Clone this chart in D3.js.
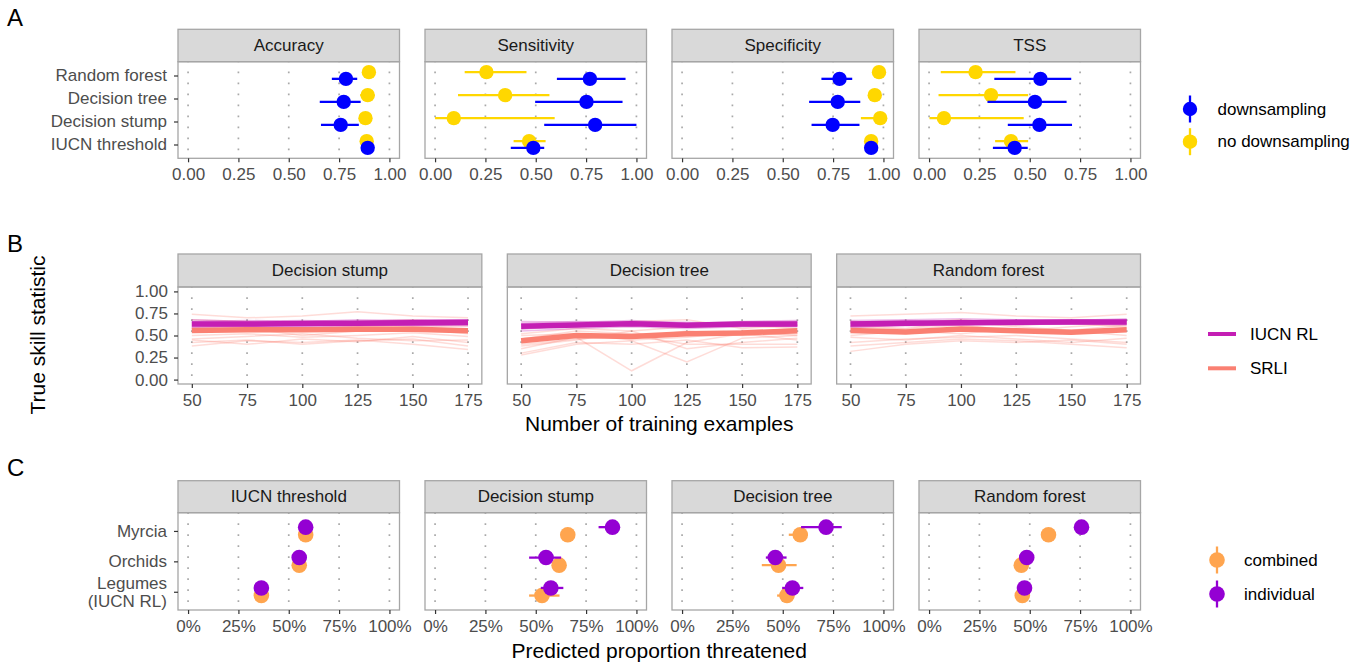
<!DOCTYPE html>
<html>
<head>
<meta charset="utf-8">
<script src="https://cdn.jsdelivr.net/npm/d3@7"></script>
<style>
body{margin:0;background:#fff;}
svg text{font-family:"Liberation Sans",Arial,sans-serif;}
</style>
</head>
<body>
<svg id="chart" width="1364" height="663"></svg>
<script>
// ---------- panel A data : [estimate, low, high] per method ----------
var methodsA = ["IUCN threshold","Decision stump","Decision tree","Random forest"];
var metricsA = ["Accuracy","Sensitivity","Specificity","TSS"];
var accNoDown  = [[0.887,0.88,0.895],[0.881,0.87,0.89],[0.892,0.855,0.926],[0.898,0.89,0.905]];
var accDown    = [[0.892,0.885,0.9],[0.758,0.66,0.848],[0.773,0.654,0.857],[0.784,0.714,0.84]];
var sensNoDown = [[0.467,0.39,0.549],[0.093,0.0,0.594],[0.348,0.114,0.568],[0.255,0.147,0.454]];
var sensDown   = [[0.488,0.376,0.542],[0.795,0.542,1.0],[0.752,0.497,0.931],[0.769,0.605,0.946]];
var specNoDown = [[0.939,0.93,0.95],[0.984,0.888,1.0],[0.957,0.95,0.965],[0.978,0.97,0.985]];
var specDown   = [[0.939,0.93,0.948],[0.748,0.643,0.881],[0.773,0.631,0.885],[0.782,0.692,0.845]];
var tssNoDown  = [[0.407,0.328,0.492],[0.074,0.002,0.47],[0.308,0.047,0.492],[0.231,0.058,0.429]];
var tssDown    = [[0.425,0.317,0.49],[0.548,0.391,0.71],[0.526,0.29,0.683],[0.553,0.324,0.706]];
var ticksA = [0, 0.25, 0.5, 0.75, 1];

// ---------- panel B data : true skill statistic by training size ----------
var modelsB = ["Decision stump","Decision tree","Random forest"];
var trainSizes = [50, 75, 100, 125, 150, 175];
var stumpIucnMean = [0.63,0.63,0.635,0.64,0.645,0.649];
var stumpSrliMean = [0.558,0.565,0.565,0.57,0.57,0.555];
var treeIucnMean  = [0.604,0.62,0.634,0.615,0.63,0.63];
var treeSrliMean  = [0.44,0.50,0.49,0.52,0.528,0.555];
var forestIucnMean = [0.63,0.638,0.645,0.65,0.653,0.653];
var forestSrliMean = [0.558,0.54,0.574,0.555,0.536,0.566];
var stumpIucnRuns = [
  [0.66,0.67,0.66,0.68,0.67,0.68],[0.60,0.61,0.62,0.61,0.62,0.63],[0.64,0.63,0.65,0.66,0.65,0.66],
  [0.58,0.60,0.60,0.61,0.62,0.61],[0.62,0.64,0.63,0.63,0.64,0.65],[0.68,0.66,0.67,0.66,0.68,0.67],
  [0.59,0.62,0.61,0.63,0.61,0.62],[0.65,0.65,0.64,0.65,0.66,0.66]];
var stumpSrliRuns = [
  [0.74,0.70,0.72,0.77,0.72,0.70],[0.42,0.45,0.40,0.44,0.46,0.38],[0.50,0.52,0.48,0.50,0.53,0.49],
  [0.62,0.60,0.64,0.62,0.60,0.61],[0.46,0.49,0.52,0.47,0.44,0.45],[0.58,0.55,0.57,0.60,0.58,0.52],
  [0.38,0.44,0.42,0.45,0.40,0.34],[0.68,0.66,0.62,0.66,0.68,0.64],[0.54,0.58,0.50,0.55,0.56,0.57],
  [0.45,0.40,0.46,0.43,0.49,0.42]];
var treeIucnRuns = [
  [0.66,0.65,0.67,0.64,0.66,0.67],[0.55,0.58,0.60,0.58,0.60,0.61],[0.62,0.63,0.62,0.62,0.64,0.64],
  [0.58,0.60,0.63,0.60,0.61,0.60],[0.64,0.66,0.65,0.63,0.65,0.66],[0.60,0.62,0.64,0.61,0.62,0.62],
  [0.63,0.61,0.66,0.65,0.63,0.65],[0.57,0.62,0.61,0.62,0.64,0.62]];
var treeSrliRuns = [
  [0.35,0.48,0.10,0.42,0.52,0.45],[0.28,0.40,0.44,0.20,0.47,0.50],[0.52,0.58,0.55,0.60,0.62,0.58],
  [0.40,0.46,0.50,0.40,0.40,0.40],[0.46,0.55,0.52,0.50,0.56,0.55],[0.30,0.42,0.40,0.45,0.36,0.37],
  [0.62,0.60,0.66,0.68,0.58,0.62],[0.42,0.50,0.47,0.55,0.50,0.52],[0.38,0.45,0.55,0.35,0.42,0.47],
  [0.50,0.52,0.45,0.48,0.54,0.50]];
var forestIucnRuns = [
  [0.67,0.68,0.69,0.68,0.67,0.69],[0.60,0.61,0.62,0.63,0.63,0.62],[0.64,0.66,0.65,0.66,0.66,0.67],
  [0.61,0.63,0.64,0.64,0.65,0.64],[0.66,0.64,0.67,0.66,0.68,0.66],[0.59,0.62,0.63,0.62,0.64,0.63],
  [0.63,0.65,0.64,0.65,0.64,0.66],[0.65,0.67,0.66,0.67,0.66,0.68]];
var forestSrliRuns = [
  [0.72,0.74,0.76,0.72,0.70,0.74],[0.32,0.40,0.44,0.42,0.45,0.40],[0.48,0.45,0.50,0.46,0.42,0.47],
  [0.62,0.58,0.66,0.60,0.56,0.62],[0.42,0.46,0.48,0.50,0.46,0.42],[0.56,0.52,0.57,0.54,0.52,0.58],
  [0.66,0.64,0.68,0.62,0.64,0.60],[0.50,0.55,0.52,0.58,0.55,0.50],[0.38,0.42,0.46,0.44,0.40,0.36],
  [0.60,0.57,0.62,0.55,0.60,0.64]];
var ticksBx = [50, 75, 100, 125, 150, 175];
var ticksBy = [0, 0.25, 0.5, 0.75, 1];

// ---------- panel C data : predicted proportion threatened [est, low, high] ----------
var groupsC = ["Legumes\n(IUCN RL)","Orchids","Myrcia"];
var methodsC = ["IUCN threshold","Decision stump","Decision tree","Random forest"];
var iucnCombined    = [[0.364,0.36,0.368],[0.552,0.548,0.556],[0.584,0.58,0.588]];
var iucnIndividual  = [[0.364,0.36,0.368],[0.552,0.548,0.556],[0.584,0.58,0.588]];
var stumpCombined   = [[0.531,0.467,0.618],[0.616,0.61,0.622],[0.659,0.655,0.663]];
var stumpIndividual = [[0.575,0.525,0.637],[0.551,0.467,0.626],[0.881,0.812,0.903]];
var treeCombined    = [[0.521,0.472,0.557],[0.479,0.396,0.569],[0.587,0.53,0.625]];
var treeIndividual  = [[0.548,0.497,0.602],[0.463,0.416,0.519],[0.715,0.591,0.793]];
var forestCombined  = [[0.463,0.458,0.468],[0.458,0.453,0.463],[0.593,0.588,0.598]];
var forestIndividual= [[0.474,0.469,0.479],[0.485,0.48,0.49],[0.757,0.728,0.789]];
var ticksC = [0, 0.25, 0.5, 0.75, 1];

// ---------- colours ----------
var colDown = "#0000ff", colNoDown = "#ffd700";
var colIucn = "#c41eb4", colSrli = "#fa8072";
var colCombined = "#ffa54f", colIndividual = "#9400d3";

var svg = d3.select("#chart");
var plotLeft = 178, plotRight = 1140.5, gap = 25.5;
var axisCol = "#4d4d4d", tickCol = "#333333", borderCol = "#a6a6a6";

function panels(n){
  var w = (plotRight - plotLeft - gap*(n-1))/n;
  return d3.range(n).map(function(i){ return {x0: plotLeft + i*(w+gap), w: w}; });
}

function strip(p, top, bottom, label){
  svg.append("rect").attr("x", p.x0).attr("y", top).attr("width", p.w).attr("height", bottom-top)
    .attr("fill", "#d9d9d9").attr("stroke", borderCol).attr("stroke-width", 1.3);
  svg.append("text").attr("x", p.x0 + p.w/2).attr("y", (top+bottom)/2)
    .attr("text-anchor", "middle").attr("dominant-baseline", "central")
    .attr("font-size", 17).attr("fill", "#1a1a1a").text(label);
}

function grid(x, ticks, top, bottom){
  svg.append("g").selectAll("line").data(ticks).enter().append("line")
    .attr("x1", function(d){return x(d);}).attr("x2", function(d){return x(d);})
    .attr("y1", bottom).attr("y2", top)
    .attr("stroke", "#a9a9a9").attr("stroke-width", 1.7)
    .attr("stroke-dasharray", "1.7,9.3").attr("stroke-dashoffset", -8);
}

function border(p, top, bottom){
  svg.append("rect").attr("x", p.x0).attr("y", top).attr("width", p.w).attr("height", bottom-top)
    .attr("fill", "none").attr("stroke", borderCol).attr("stroke-width", 1.3);
}

function styleAxis(g){
  g.select(".domain").remove();
  g.attr("font-size", 17).attr("font-family", null);
  g.selectAll(".tick line").attr("stroke", tickCol).attr("stroke-width", 1.2);
  g.selectAll(".tick text").attr("fill", axisCol);
}

function xAxis(x, ticks, fmt, bottom){
  var g = svg.append("g").attr("transform", "translate(0," + bottom + ")")
    .call(d3.axisBottom(x).tickValues(ticks).tickFormat(fmt).tickSize(4).tickPadding(6));
  styleAxis(g);
}

function pointRanges(rows, x, y, cats, dy, color, lw, r){
  var g = svg.append("g").selectAll("g").data(rows).enter().append("g");
  g.append("line")
    .attr("x1", function(d){return x(d[1]);}).attr("x2", function(d){return x(d[2]);})
    .attr("y1", function(d,i){return y(cats[i]) + dy;}).attr("y2", function(d,i){return y(cats[i]) + dy;})
    .attr("stroke", color).attr("stroke-width", lw);
  g.append("circle")
    .attr("cx", function(d){return x(d[0]);}).attr("cy", function(d,i){return y(cats[i]) + dy;})
    .attr("r", r).attr("fill", color);
}

function letter(t, y){
  svg.append("text").attr("x", 7).attr("y", y).attr("dominant-baseline", "central")
    .attr("font-size", 24).attr("fill", "#000").text(t);
}

// ================= Panel A =================
var aStripTop = 29.3, aTop = 61.7, aBottom = 158.3;
var seriesA = [[accNoDown, accDown],[sensNoDown, sensDown],[specNoDown, specDown],[tssNoDown, tssDown]];
var yA = d3.scalePoint().domain(methodsA).range([aBottom, aTop]).padding(0.6);
var offA = 0.145 * yA.step();
panels(4).forEach(function(p, i){
  var x = d3.scaleLinear().domain([-0.05, 1.05]).range([p.x0, p.x0 + p.w]);
  strip(p, aStripTop, aTop, metricsA[i]);
  grid(x, ticksA, aTop, aBottom);
  pointRanges(seriesA[i][0], x, yA, methodsA, -offA, colNoDown, 2.3, 7.2);
  pointRanges(seriesA[i][1], x, yA, methodsA, offA, colDown, 2.3, 7.2);
  border(p, aTop, aBottom);
  xAxis(x, ticksA, d3.format(".2f"), aBottom);
  if(i === 0){
    var g = svg.append("g").attr("transform", "translate(" + p.x0 + ",0)")
      .call(d3.axisLeft(yA).tickSize(4).tickPadding(7));
    styleAxis(g);
  }
});
letter("A", 17);

// legend A
[["downsampling", colDown, 109], ["no downsampling", colNoDown, 141.7]].forEach(function(d){
  svg.append("line").attr("x1", 1190).attr("x2", 1190).attr("y1", d[2]-13.5).attr("y2", d[2]+13.5)
    .attr("stroke", d[1]).attr("stroke-width", 2.3);
  svg.append("circle").attr("cx", 1190).attr("cy", d[2]).attr("r", 7.2).attr("fill", d[1]);
  svg.append("text").attr("x", 1217.5).attr("y", d[2]).attr("dominant-baseline", "central")
    .attr("font-size", 17).attr("fill", "#000").text(d[0]);
});

// ================= Panel B =================
var bStripTop = 254, bTop = 287, bBottom = 384;
var seriesB = [
  {iucn: stumpIucnMean, srli: stumpSrliMean, iucnRuns: stumpIucnRuns, srliRuns: stumpSrliRuns},
  {iucn: treeIucnMean, srli: treeSrliMean, iucnRuns: treeIucnRuns, srliRuns: treeSrliRuns},
  {iucn: forestIucnMean, srli: forestSrliMean, iucnRuns: forestIucnRuns, srliRuns: forestSrliRuns}];
var yB = d3.scaleLinear().domain([-0.05, 1.05]).range([bBottom, bTop]);
panels(3).forEach(function(p, i){
  var x = d3.scaleLinear().domain([43.75, 181.25]).range([p.x0, p.x0 + p.w]);
  var line = d3.line().x(function(d, j){return x(trainSizes[j]);}).y(function(d){return yB(d);});
  var s = seriesB[i];
  strip(p, bStripTop, bTop, modelsB[i]);
  grid(x, ticksBx, bTop, bBottom);
  svg.append("g").selectAll("path").data(s.srliRuns).enter().append("path")
    .attr("d", line).attr("fill", "none").attr("stroke", colSrli).attr("stroke-width", 1.5).attr("stroke-opacity", 0.28);
  svg.append("g").selectAll("path").data(s.iucnRuns).enter().append("path")
    .attr("d", line).attr("fill", "none").attr("stroke", colIucn).attr("stroke-width", 1.5).attr("stroke-opacity", 0.3);
  svg.append("path").attr("d", line(s.srli)).attr("fill", "none").attr("stroke", colSrli).attr("stroke-width", 5.5);
  svg.append("path").attr("d", line(s.iucn)).attr("fill", "none").attr("stroke", colIucn).attr("stroke-width", 5.5);
  border(p, bTop, bBottom);
  xAxis(x, ticksBx, d3.format("d"), bBottom);
  if(i === 0){
    var g = svg.append("g").attr("transform", "translate(" + p.x0 + ",0)")
      .call(d3.axisLeft(yB).tickValues(ticksBy).tickFormat(d3.format(".2f")).tickSize(4).tickPadding(6));
    styleAxis(g);
  }
});
letter("B", 243);
svg.append("text").attr("transform", "translate(37,335) rotate(-90)").attr("text-anchor", "middle")
  .attr("dominant-baseline", "central").attr("font-size", 21).attr("fill", "#000").text("True skill statistic");
svg.append("text").attr("x", (plotLeft + plotRight)/2).attr("y", 423).attr("text-anchor", "middle")
  .attr("dominant-baseline", "central").attr("font-size", 21).attr("fill", "#000").text("Number of training examples");

// legend B
[["IUCN RL", colIucn, 334], ["SRLI", colSrli, 368.3]].forEach(function(d){
  svg.append("line").attr("x1", 1208).attr("x2", 1236).attr("y1", d[2]).attr("y2", d[2])
    .attr("stroke", d[1]).attr("stroke-width", 4);
  svg.append("text").attr("x", 1250).attr("y", d[2]).attr("dominant-baseline", "central")
    .attr("font-size", 17).attr("fill", "#000").text(d[0]);
});

// ================= Panel C =================
var cStripTop = 480.7, cTop = 512.7, cBottom = 610;
var seriesC = [[iucnCombined, iucnIndividual],[stumpCombined, stumpIndividual],
               [treeCombined, treeIndividual],[forestCombined, forestIndividual]];
var yC = d3.scalePoint().domain(groupsC).range([cBottom, cTop]).padding(0.6);
var offC = 0.125 * yC.step();
panels(4).forEach(function(p, i){
  var x = d3.scaleLinear().domain([-0.05, 1.05]).range([p.x0, p.x0 + p.w]);
  strip(p, cStripTop, cTop, methodsC[i]);
  grid(x, ticksC, cTop, cBottom);
  pointRanges(seriesC[i][0], x, yC, groupsC, offC, colCombined, 2.3, 7.8);
  pointRanges(seriesC[i][1], x, yC, groupsC, -offC, colIndividual, 2.3, 7.8);
  border(p, cTop, cBottom);
  xAxis(x, ticksC, d3.format(".0%"), cBottom);
  if(i === 0){
    var g = svg.append("g").attr("transform", "translate(" + p.x0 + ",0)")
      .call(d3.axisLeft(yC).tickSize(4).tickPadding(7));
    styleAxis(g);
    // two-line category label
    g.selectAll(".tick text").each(function(d){
      var parts = d.split("\n");
      if(parts.length > 1){
        var t = d3.select(this).text(null).attr("dy", null);
        parts.forEach(function(s, k){
          t.append("tspan").attr("x", -11).attr("dy", k === 0 ? "-0.22em" : "1.1em").text(s);
        });
      }
    });
  }
});
letter("C", 467);
svg.append("text").attr("x", (plotLeft + plotRight)/2).attr("y", 650).attr("text-anchor", "middle")
  .attr("dominant-baseline", "central").attr("font-size", 21).attr("fill", "#000").text("Predicted proportion threatened");

// legend C
[["combined", colCombined, 560], ["individual", colIndividual, 594]].forEach(function(d){
  svg.append("line").attr("x1", 1217).attr("x2", 1217).attr("y1", d[2]-13.5).attr("y2", d[2]+13.5)
    .attr("stroke", d[1]).attr("stroke-width", 2.3);
  svg.append("circle").attr("cx", 1217).attr("cy", d[2]).attr("r", 7.8).attr("fill", d[1]);
  svg.append("text").attr("x", 1244).attr("y", d[2]).attr("dominant-baseline", "central")
    .attr("font-size", 17).attr("fill", "#000").text(d[0]);
});
</script>
</body>
</html>
